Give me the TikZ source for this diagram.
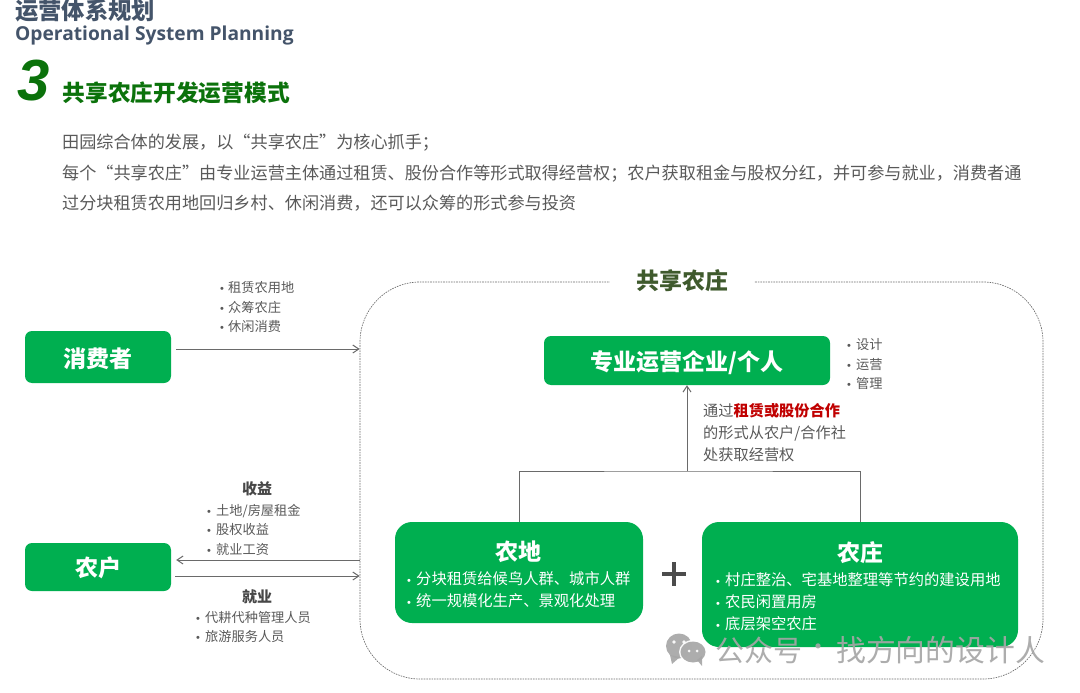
\documentclass[tikz,border=0pt]{standalone}
\usepackage{fontspec}
\setmainfont{Noto Sans CJK SC}
\newfontfamily\latinbold{Open Sans}
\newfontfamily\numfont{Liberation Sans}
\usetikzlibrary{arrows.meta,calc}
\definecolor{boxgreen}{HTML}{00AF50}
\definecolor{txtgray}{HTML}{595959}
\definecolor{linegray}{HTML}{6A6A6A}
\definecolor{titleblue}{HTML}{44546A}
\definecolor{headgreen}{HTML}{0B720B}
\definecolor{framehead}{HTML}{3F5A2D}
\definecolor{redbold}{HTML}{C00000}
\definecolor{wmgray}{HTML}{A6A6A6}
\newcommand{\fs}[1]{\fontsize{#1}{#1}\selectfont}
\newcommand{\itm}[2]{\makebox[#1pt][l]{\numfont\fs{11}\raisebox{0pt}{•}}#2}
\tikzset{
  x=1pt,y=-1pt,
  txt/.style={anchor=west,inner sep=0pt,text=txtgray,yshift=-1pt},
  small/.style={txt,font=\fs{13.2},text height=11.6pt,text depth=1.6pt},
  para/.style={txt,font=\fs{17.13},text height=15pt,text depth=2pt},
  mid/.style={txt,font=\fs{15.2},text height=13.4pt,text depth=1.8pt},
  white15/.style={anchor=west,inner sep=0pt,text=white,yshift=-1pt,font=\fs{15.3},text height=13.4pt,text depth=1.8pt},
  gbox/.style={fill=boxgreen,rounded corners=7pt,inner sep=0pt},
  bigbox/.style={fill=boxgreen,rounded corners=17pt,inner sep=0pt},
  boxtitle/.style={inner sep=0pt,text=white,yshift=-1pt,font=\fs{23}\bfseries},
  conn/.style={draw=linegray,line width=1pt},
  arr/.style={conn,-{Straight Barb[length=6pt,width=8pt]}},
}
\begin{document}
\begin{tikzpicture}
\useasboundingbox (0,0) rectangle (1080,693);
% header
\node[anchor=west,inner sep=0pt,text=titleblue,font=\fs{23.3}\bfseries] (t1) at (15,11) {运营体系规划};
\node[anchor=west,inner sep=0pt,text=titleblue,font=\latinbold\fs{19.2}\bfseries] (t2) at (15,36) {Operational System Planning};
\node[anchor=west,inner sep=0pt,text=headgreen,font=\numfont\fs{58}\bfseries\itshape] (t3) at (17,81) {3};
\node[anchor=west,inner sep=0pt,text=headgreen,font=\fs{22.7}\bfseries] (t4) at (62.5,93) {共享农庄开发运营模式};
\node[para] (p1) at (62,141) {田园综合体的发展，以“共享农庄”为核心抓手；};
\node[para] (p2) at (62,172) {每个“共享农庄”由专业运营主体通过租赁、股份合作等形式取得经营权；农户获取租金与股权分红，并可参与就业，消费者通};
\node[para] (p3) at (62,202) {过分块租赁农用地回归乡村、休闲消费，还可以众筹的形式参与投资};
% frame
\node[draw=linegray,line width=0.65pt,dash pattern=on 1.6pt off 1pt,rounded corners=60pt,minimum width=683pt,minimum height=397pt,inner sep=0pt] (frame) at (701.5,480.5) {};
\node[fill=white,minimum width=144pt,minimum height=14pt,inner sep=0pt,text=framehead,font=\fs{23}\bfseries] (ftitle) at (682,281) {共享农庄};
% boxes
\node[gbox,minimum width=146pt,minimum height=52pt] (cons) at (98,357) {};
\node[boxtitle] (consT) at (98,358) {消费者};
\node[gbox,minimum width=146pt,minimum height=48pt] (farmer) at (98,567) {};
\node[boxtitle] (farmerT) at (98,567) {农户};
\node[gbox,minimum width=286pt,minimum height=49pt] (pro) at (687,360.5) {};
\node[boxtitle] (proT) at (687,362) {专业运营企业/个人};
\node[bigbox,minimum width=248pt,minimum height=101pt] (land) at (519,572.5) {};
\node[boxtitle] (landT) at (518.5,551) {农地};
\node[bigbox,minimum width=316pt,minimum height=125pt] (farm) at (860,584.5) {};
\node[boxtitle] (farmT) at (860.5,552) {农庄};
% connectors
\draw[arr,shorten <=5pt] ([yshift=8pt]cons.east) -- ([yshift=8pt]cons.east -| frame.west);
\draw[arr,shorten >=5pt] ([yshift=7pt]farmer.east -| frame.west) -- ([yshift=7pt]farmer.east);
\draw[arr,shorten <=4pt] ([yshift=-9pt]farmer.east) -- ([yshift=-9pt]farmer.east -| frame.west);
\coordinate (hub) at (687,471);
\draw[conn] (land.north) |- (hub) -| (farm.north);
\draw[arr] (hub) -- (pro.south);
% consumer notes
\node[small] (c1) at (220,286) {\itm{8}{租赁农用地}};
\node[small] (c2) at (220,306) {\itm{8}{众筹农庄}};
\node[small] (c3) at (220,325) {\itm{8}{休闲消费}};
% operator notes
\node[small] (o1) at (847,343) {\itm{9}{设计}};
\node[small] (o2) at (847,363) {\itm{9}{运营}};
\node[small] (o3) at (847,382) {\itm{9}{管理}};
\node[mid] (v1) at (703,410) {通过{\bfseries\color{redbold}租赁或股份合作}};
\node[mid] (v2) at (703,432) {的形式从农户/合作社};
\node[mid] (v3) at (703,454) {处获取经营权};
% farmer notes
\node[inner sep=0pt,yshift=-1pt,text=txtgray!80!black,font=\fs{15}\bfseries] (i0) at (257,488) {收益};
\node[small] (i1) at (207,509) {\itm{9}{土地/房屋租金}};
\node[small] (i2) at (207,528) {\itm{9}{股权收益}};
\node[small] (i3) at (207,548) {\itm{9}{就业工资}};
\node[inner sep=0pt,yshift=-1pt,text=txtgray!80!black,font=\fs{15}\bfseries] (j0) at (257,596) {就业};
\node[small] (j1) at (196,616) {\itm{9}{代耕代种管理人员}};
\node[small] (j2) at (196,635) {\itm{9}{旅游服务人员}};
% box lists
\node[white15] (l1) at (407,578) {\itm{9}{分块租赁给候鸟人群、城市人群}};
\node[white15] (l2) at (407,600) {\itm{9}{统一规模化生产、景观化处理}};
\node[white15] (f1) at (716,579) {\itm{9}{村庄整治、宅基地整理等节约的建设用地}};
\node[white15] (f2) at (716,601) {\itm{9}{农民闲置用房}};
\node[white15] (f3) at (716,623) {\itm{9}{底层架空农庄}};
% plus
\draw[line width=4pt,draw=txtgray!85!black] (662,574) -- (686,574) (674,562) -- (674,586);
% watermark
\begin{scope}[opacity=0.92]
\fill[wmgray] (679,646) ellipse [x radius=13,y radius=12.5];
\fill[wmgray] (670,655) -- (672,664) -- (680,657) -- cycle;
\fill[white] (693,652) ellipse [x radius=14,y radius=12];
\fill[wmgray] (693,652) ellipse [x radius=12.5,y radius=10.5];
\fill[wmgray] (697,660) -- (702,666) -- (702,656) -- cycle;
\fill[white] (674,642) circle (1.8) (684,642) circle (1.8) (689,651) circle (1.5) (697,651) circle (1.5);
\node[anchor=west,inner sep=0pt,text=wmgray,font=\fs{29}] (wm1) at (715,650) {公众号};
\node[anchor=center,inner sep=0pt,text=wmgray,font=\fs{24}] (wm2) at (818,650) {·};
\node[anchor=west,inner sep=0pt,text=wmgray,font=\fs{29.8}] (wm3) at (836,650) {找方向的设计人};
\end{scope}
\end{tikzpicture}
\end{document}
